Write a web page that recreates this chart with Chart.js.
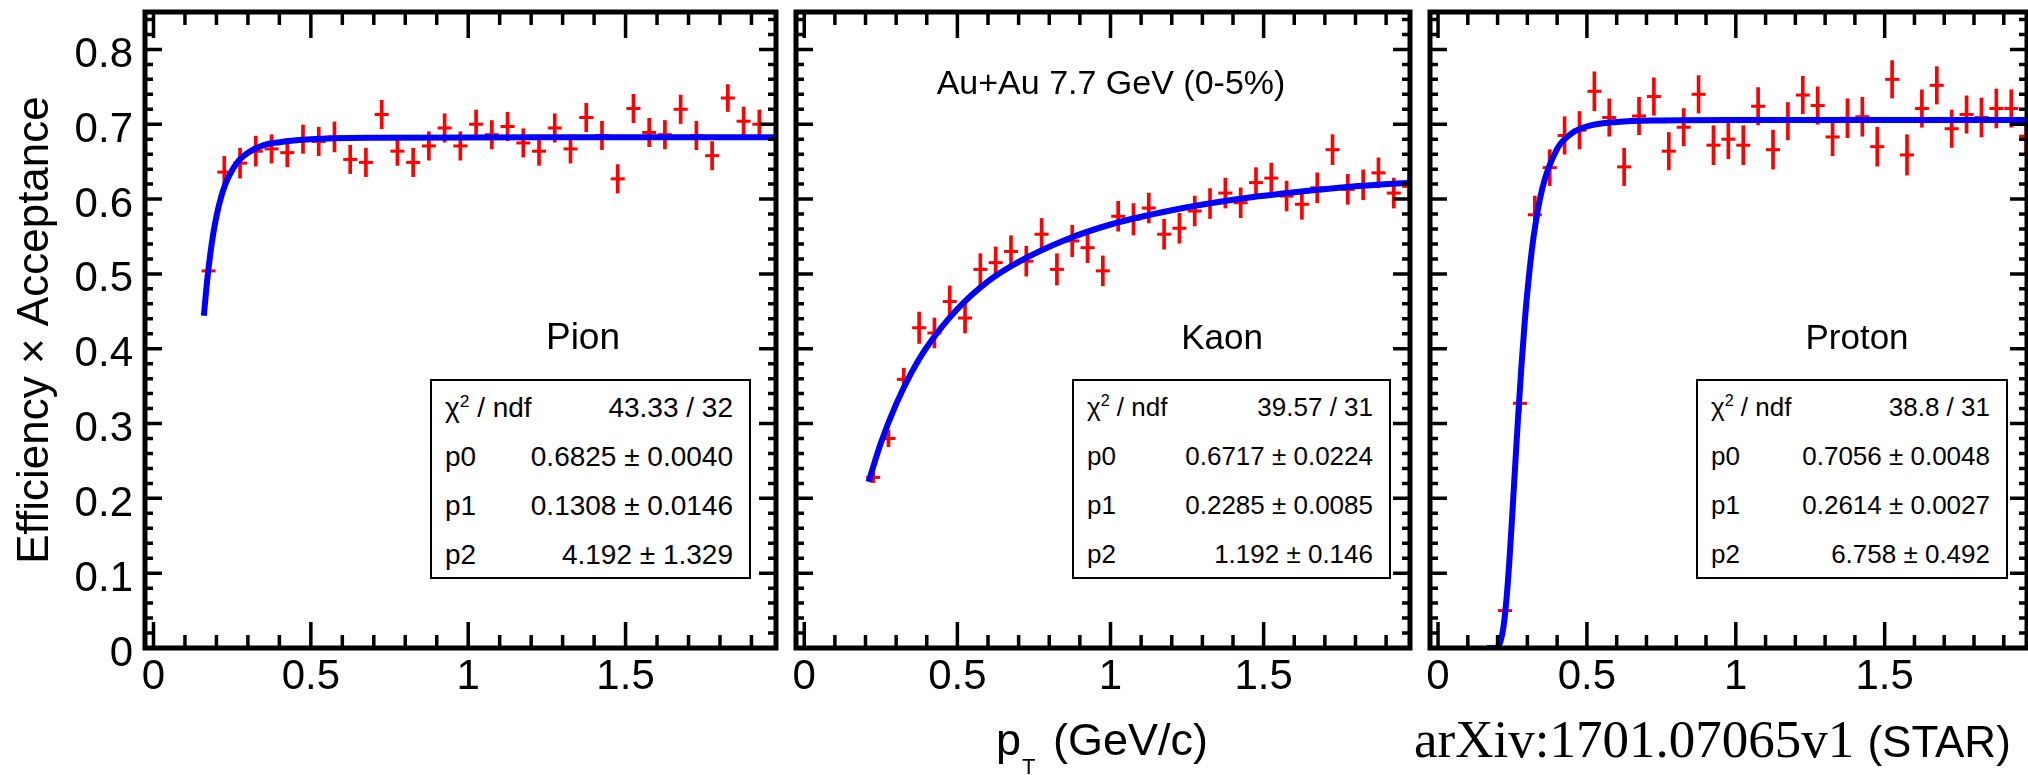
<!DOCTYPE html>
<html>
<head>
<meta charset="utf-8">
<script src="https://cdn.jsdelivr.net/npm/chart.js@4.4.1/dist/chart.umd.min.js"></script>
<style>
  body { margin: 0; background: #fff; }
  #wrap { position: relative; width: 2028px; height: 775px; overflow: hidden; font-family: 'Liberation Sans', Arial, sans-serif; color: #000; }
  canvas { position: absolute; top: 0; }
  .lbl { position: absolute; white-space: nowrap; line-height: 1; }
  .ctr { transform: translateX(-50%); }
  .stats { position: absolute; top: 379px; height: 200px; border: 2px solid #000; background: #fff; box-sizing: border-box; padding: 2px 16px 0 13px; }
  .stats .row { display: flex; justify-content: space-between; align-items: center; height: 49px; white-space: nowrap; }
  .stats sup { font-size: 0.62em; line-height: 0; }
</style>
</head>
<body>
<div id="wrap">
  <canvas id="c1" width="786" height="775" style="left:0px"></canvas>
  <canvas id="c2" width="634" height="775" style="left:786px"></canvas>
  <canvas id="c3" width="617" height="775" style="left:1420px"></canvas>

  <div class="lbl ctr" style="left:1111px; top:65px; font-size:34px">Au+Au 7.7 GeV (0-5%)</div>
  <div class="lbl ctr" style="left:583px; top:318px; font-size:37px">Pion</div>
  <div class="lbl ctr" style="left:1222px; top:319px; font-size:35px">Kaon</div>
  <div class="lbl ctr" style="left:1857px; top:319px; font-size:35px">Proton</div>

  <div class="stats" id="s1" style="left:430px; width:321px; font-size:28px"></div>
  <div class="stats" id="s2" style="left:1072px; width:319px; font-size:26px"></div>
  <div class="stats" id="s3" style="left:1696px; width:312px; font-size:26px"></div>

  <div class="lbl" style="left:996px; top:717px; font-size:45px">p<span style="font-size:22px; position:relative; top:19px; margin-left:1px; margin-right:5px">T</span> (GeV/c)</div>
  <div class="lbl" style="left:1414px; top:713px; font-size:53px; font-family:'Liberation Serif', 'Times New Roman', serif">arXiv:1701.07065v1 <span style="font-family:'Liberation Sans', Arial, sans-serif; font-size:44px">(STAR)</span></div>
</div>

<script>
// axis ticks
const xTickValues = [0, 0.5, 1, 1.5];
const xTickLabels = ['0', '0.5', '1', '1.5'];
const yTickValues = [0, 0.1, 0.2, 0.3, 0.4, 0.5, 0.6, 0.7, 0.8];
const yTickLabels = ['0', '0.1', '0.2', '0.3', '0.4', '0.5', '0.6', '0.7', '0.8'];

// Pion
const pionPt = [0.175, 0.225, 0.275, 0.325, 0.375, 0.425, 0.475, 0.525, 0.575, 0.625, 0.675, 0.725,
  0.775, 0.825, 0.875, 0.925, 0.975, 1.025, 1.075, 1.125, 1.175, 1.225, 1.275, 1.325,
  1.375, 1.425, 1.475, 1.525, 1.575, 1.625, 1.675, 1.725, 1.775, 1.825, 1.875, 1.925];
const pionEff = [0.504, 0.636, 0.648, 0.664, 0.667, 0.662, 0.680, 0.677, 0.683, 0.653, 0.649, 0.713,
  0.664, 0.649, 0.671, 0.695, 0.671, 0.700, 0.686, 0.697, 0.675, 0.664, 0.695, 0.667,
  0.709, 0.685, 0.627, 0.721, 0.689, 0.686, 0.720, 0.685, 0.658, 0.735, 0.704, 0.700];
const pionErr = [0.003, 0.021, 0.020, 0.020, 0.019, 0.019, 0.019, 0.019, 0.020, 0.019, 0.019, 0.019,
  0.019, 0.019, 0.019, 0.019, 0.019, 0.019, 0.019, 0.019, 0.019, 0.019, 0.019, 0.019,
  0.019, 0.019, 0.019, 0.019, 0.019, 0.019, 0.019, 0.019, 0.019, 0.018, 0.019, 0.019];
const pionFitPt = [0.16, 0.17, 0.18, 0.19, 0.20, 0.22, 0.24, 0.27, 0.30, 0.35, 0.40, 0.50, 0.70, 1.0, 1.98];
const pionFitEff = [0.444, 0.489, 0.525, 0.554, 0.577, 0.610, 0.631, 0.651, 0.662, 0.672, 0.676, 0.680, 0.682, 0.6824, 0.6825];

// Kaon
const kaonPt = [0.225, 0.275, 0.325, 0.375, 0.425, 0.475, 0.525, 0.575, 0.625, 0.675, 0.725, 0.775,
  0.825, 0.875, 0.925, 0.975, 1.025, 1.075, 1.125, 1.175, 1.225, 1.275, 1.325, 1.375,
  1.425, 1.475, 1.525, 1.575, 1.625, 1.675, 1.725, 1.775, 1.825, 1.875, 1.925, 1.975];
const kaonEff = [0.228, 0.280, 0.359, 0.428, 0.421, 0.463, 0.441, 0.506, 0.515, 0.530, 0.517, 0.553,
  0.506, 0.544, 0.535, 0.504, 0.577, 0.573, 0.588, 0.553, 0.561, 0.584, 0.594, 0.608,
  0.595, 0.622, 0.628, 0.604, 0.593, 0.615, 0.666, 0.613, 0.619, 0.635, 0.608, 0.617];
const kaonErr = [0.007, 0.011, 0.015, 0.021, 0.020, 0.021, 0.020, 0.021, 0.021, 0.021, 0.020, 0.021,
  0.021, 0.021, 0.020, 0.020, 0.020, 0.021, 0.020, 0.020, 0.020, 0.020, 0.020, 0.020,
  0.020, 0.020, 0.020, 0.020, 0.020, 0.020, 0.020, 0.020, 0.020, 0.020, 0.020, 0.020];
const kaonFitPt = [0.21, 0.25, 0.30, 0.35, 0.40, 0.50, 0.60, 0.70, 0.85, 1.0, 1.2, 1.4, 1.6, 1.8, 1.98];
const kaonFitEff = [0.222, 0.274, 0.326, 0.368, 0.402, 0.453, 0.490, 0.516, 0.545, 0.566, 0.585, 0.599, 0.609, 0.617, 0.622];

// Proton
const protonPt = [0.225, 0.275, 0.325, 0.375, 0.425, 0.475, 0.525, 0.575, 0.625, 0.675, 0.725, 0.775,
  0.825, 0.875, 0.925, 0.975, 1.025, 1.075, 1.125, 1.175, 1.225, 1.275, 1.325, 1.375,
  1.425, 1.475, 1.525, 1.575, 1.625, 1.675, 1.725, 1.775, 1.825, 1.875, 1.925, 1.975];
const protonEff = [0.050, 0.327, 0.579, 0.642, 0.685, 0.692, 0.744, 0.709, 0.643, 0.711, 0.737, 0.664,
  0.696, 0.740, 0.672, 0.680, 0.672, 0.724, 0.666, 0.704, 0.739, 0.725, 0.683, 0.708,
  0.710, 0.670, 0.760, 0.659, 0.721, 0.752, 0.694, 0.713, 0.709, 0.721, 0.721, 0.684];
const protonErr = [0.003, 0.012, 0.025, 0.024, 0.025, 0.025, 0.026, 0.025, 0.025, 0.025, 0.025, 0.025,
  0.025, 0.025, 0.026, 0.026, 0.026, 0.025, 0.026, 0.025, 0.025, 0.025, 0.025, 0.026,
  0.026, 0.026, 0.025, 0.027, 0.025, 0.025, 0.025, 0.025, 0.026, 0.026, 0.025, 0.025];
const protonFitPt = [0.163, 0.19, 0.20, 0.21, 0.22, 0.23, 0.24, 0.25, 0.26, 0.27, 0.28, 0.29, 0.30, 0.32,
  0.35, 0.40, 0.45, 0.50, 0.60, 0.75, 1.0, 1.98];
const protonFitEff = [0, 0.0001, 0.0016, 0.009, 0.029, 0.066, 0.119, 0.183, 0.250, 0.316, 0.376, 0.430, 0.476, 0.547,
  0.614, 0.667, 0.688, 0.697, 0.703, 0.705, 0.7055, 0.7056];

// fit boxes
const statNames = ['χ<sup>2</sup> / ndf', 'p0', 'p1', 'p2'];
const pionStats = ['43.33 / 32', '0.6825 ± 0.0040', '0.1308 ± 0.0146', '4.192 ± 1.329'];
const kaonStats = ['39.57 / 31', '0.6717 ± 0.0224', '0.2285 ± 0.0085', '1.192 ± 0.146'];
const protonStats = ['38.8 / 31', '0.7056 ± 0.0048', '0.2614 ± 0.0027', '6.758 ± 0.492'];

Chart.defaults.font.family = "'Liberation Sans', Arial, sans-serif";
Chart.defaults.color = '#000';

// ROOT style frame with inner ticks
const frameTicks = {
  id: 'frameTicks',
  afterDraw(chart) {
    const {ctx, chartArea: a, scales: {x, y}} = chart;
    ctx.save();
    ctx.strokeStyle = '#000';
    ctx.lineWidth = 3.5;
    ctx.beginPath();
    for (let i = 0; i <= 19; i++) {
      const px = x.getPixelForValue(i / 10);
      const len = i % 5 === 0 ? 26 : 13;
      ctx.moveTo(px, a.bottom); ctx.lineTo(px, a.bottom - len);
      ctx.moveTo(px, a.top); ctx.lineTo(px, a.top + len);
    }
    for (let i = 0; i <= 42; i++) {
      const py = y.getPixelForValue(i * 0.02);
      const len = i % 5 === 0 ? 17 : 8;
      ctx.moveTo(a.left, py); ctx.lineTo(a.left + len, py);
      ctx.moveTo(a.right, py); ctx.lineTo(a.right - len, py);
    }
    ctx.stroke();
    ctx.lineWidth = 5;
    ctx.strokeRect(a.left, a.top, a.right - a.left, a.bottom - a.top);
    ctx.restore();
  }
};

const points = (pt, eff) => pt.map((x, i) => ({x, y: eff[i]}));
const errorBars = (pt, eff, err) => pt.map((x, i) => ({x, y: [eff[i] - err[i], eff[i] + err[i]]}));

function makePanel(id, p, withYAxis) {
  return new Chart(document.getElementById(id), {
    type: 'scatter',
    data: {
      datasets: [
        { type: 'line', data: points(p.fitPt, p.fitEff), borderColor: '#0000ff', borderWidth: 6,
          pointRadius: 0, cubicInterpolationMode: 'monotone', fill: false, order: 0 },
        { type: 'scatter', data: points(p.pt, p.eff), pointStyle: 'line', pointRadius: 7,
          borderWidth: 3, borderColor: '#ff0000', backgroundColor: '#ff0000', order: 1 },
        { type: 'bar', data: errorBars(p.pt, p.eff, p.err), backgroundColor: '#ff0000',
          barThickness: 3, borderWidth: 0, order: 2 }
      ]
    },
    options: {
      responsive: false,
      animation: false,
      events: [],
      layout: { padding: { top: 12, left: 0, right: 0, bottom: 0 } },
      plugins: { legend: { display: false }, tooltip: { enabled: false } },
      scales: {
        x: {
          type: 'linear', min: -0.027, max: 1.978, offset: false, position: 'bottom',
          grid: { display: false, drawTicks: false }, border: { display: false },
          afterBuildTicks: s => { s.ticks = xTickValues.map(v => ({value: v})); },
          ticks: { font: { size: 42 }, color: '#000', padding: 4, maxRotation: 0, autoSkip: false,
                   callback: (v, i) => xTickLabels[i] },
          afterFit: s => { s.height = 127; s.paddingLeft = 0; s.paddingRight = 0; }
        },
        y: {
          type: 'linear', min: 0, max: 0.85, display: withYAxis, position: 'left',
          grid: { display: false, drawTicks: false }, border: { display: false },
          afterBuildTicks: s => { s.ticks = yTickValues.map(v => ({value: v})); },
          ticks: { font: { size: 42 }, color: '#000', padding: 12, labelOffset: 6, autoSkip: false,
                   callback: (v, i) => yTickLabels[i] },
          title: { display: true, text: 'Efficiency × Acceptance', font: { size: 44 }, color: '#000',
                   padding: { top: 9, bottom: 0 } },
          afterFit: s => { if (withYAxis) { s.width = 145; } s.paddingTop = 0; s.paddingBottom = 0; }
        }
      }
    },
    plugins: [frameTicks]
  });
}

makePanel('c1', { pt: pionPt, eff: pionEff, err: pionErr, fitPt: pionFitPt, fitEff: pionFitEff }, true);
makePanel('c2', { pt: kaonPt, eff: kaonEff, err: kaonErr, fitPt: kaonFitPt, fitEff: kaonFitEff }, false);
makePanel('c3', { pt: protonPt, eff: protonEff, err: protonErr, fitPt: protonFitPt, fitEff: protonFitEff }, false);

function fillStats(id, values) {
  document.getElementById(id).innerHTML = statNames
    .map((name, i) => `<div class="row"><span>${name}</span><span>${values[i]}</span></div>`)
    .join('');
}
fillStats('s1', pionStats);
fillStats('s2', kaonStats);
fillStats('s3', protonStats);
</script>
</body>
</html>
